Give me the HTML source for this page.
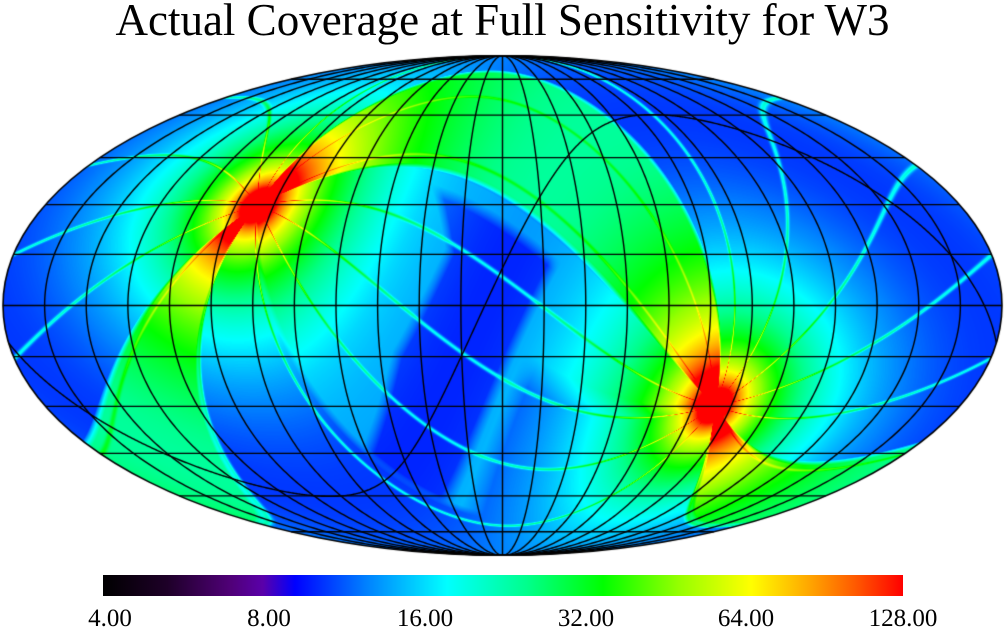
<!DOCTYPE html>
<html>
<head>
<meta charset="utf-8">
<style>
html,body{margin:0;padding:0;background:#fff;width:1005px;height:628px;overflow:hidden}
#c{position:absolute;left:0;top:0}
svg{position:absolute;left:0;top:0}
</style>
</head>
<body>
<canvas id="c" width="1005" height="628"></canvas>
<svg width="1005" height="628" xmlns="http://www.w3.org/2000/svg">
  <defs>
    <linearGradient id="cb" x1="0" x2="1" y1="0" y2="0">
      <stop offset="0" stop-color="rgb(0,0,0)"/>
      <stop offset="0.08" stop-color="rgb(30,0,40)"/>
      <stop offset="0.16" stop-color="rgb(80,0,120)"/>
      <stop offset="0.20" stop-color="rgb(90,0,170)"/>
      <stop offset="0.24" stop-color="rgb(0,0,255)"/>
      <stop offset="0.33" stop-color="rgb(0,130,255)"/>
      <stop offset="0.43" stop-color="rgb(0,255,255)"/>
      <stop offset="0.53" stop-color="rgb(0,255,140)"/>
      <stop offset="0.625" stop-color="rgb(0,255,0)"/>
      <stop offset="0.72" stop-color="rgb(150,255,0)"/>
      <stop offset="0.81" stop-color="rgb(255,255,0)"/>
      <stop offset="0.88" stop-color="rgb(255,170,0)"/>
      <stop offset="0.94" stop-color="rgb(255,90,0)"/>
      <stop offset="1" stop-color="rgb(255,0,0)"/>
    </linearGradient>
  </defs>
  <text x="502.5" y="35" font-family="Liberation Serif, serif" font-size="45" text-anchor="middle" fill="#000">Actual Coverage at Full Sensitivity for W3</text>
  <rect x="103" y="575" width="800" height="21" fill="url(#cb)"/>
  <g font-family="Liberation Serif, serif" font-size="25" text-anchor="middle" fill="#000">
    <text x="110" y="626">4.00</text>
    <text x="269" y="626">8.00</text>
    <text x="425" y="626">16.00</text>
    <text x="586" y="626">32.00</text>
    <text x="746" y="626">64.00</text>
    <text x="903" y="626">128.00</text>
  </g>
</svg>
<script>
(function(){
  var W=1005,H=628,cx=502.5,cy=305.5,A=499.5,B=249.75,PI=Math.PI,D=PI/180;
  var cv=document.getElementById('c');
  var ctx=cv.getContext('2d');
  function vec(l,b){l*=D;b*=D;return [Math.cos(b)*Math.cos(l),Math.cos(b)*Math.sin(l),Math.sin(b)];}
  var P=vec(96.3838,29.8115);
  var E0=vec(96.3373,-60.1886);
  var dd=E0[0]*P[0]+E0[1]*P[1]+E0[2]*P[2];
  E0=[E0[0]-dd*P[0],E0[1]-dd*P[1],E0[2]-dd*P[2]];
  var nn=Math.sqrt(E0[0]*E0[0]+E0[1]*E0[1]+E0[2]*E0[2]);
  E0=[E0[0]/nn,E0[1]/nn,E0[2]/nn];
  var E9=[P[1]*E0[2]-P[2]*E0[1],P[2]*E0[0]-P[0]*E0[2],P[0]*E0[1]-P[1]*E0[0]];

  var stops=[[0,0,0,0],[0.08,30,0,40],[0.16,80,0,120],[0.20,90,0,170],[0.24,0,0,255],[0.33,0,130,255],[0.43,0,255,255],[0.53,0,255,140],[0.625,0,255,0],[0.72,150,255,0],[0.81,255,255,0],[0.88,255,170,0],[0.94,255,90,0],[1,255,0,0]];
  var LUT=new Uint8Array(1024*3);
  for(var i=0;i<1024;i++){
    var t=i/1023,k=0;
    while(k<stops.length-2&&t>stops[k+1][0])k++;
    var s0=stops[k],s1=stops[k+1];
    var u=(t-s0[0])/(s1[0]-s0[0]);if(u<0)u=0;if(u>1)u=1;
    LUT[i*3]=Math.round(s0[1]+(s1[1]-s0[1])*u);
    LUT[i*3+1]=Math.round(s0[2]+(s1[2]-s0[2])*u);
    LUT[i*3+2]=Math.round(s0[3]+(s1[3]-s0[3])*u);
  }
  function clamp(x){return x<0?0:(x>1?1:x);}
  function box(x,a,b,w){return clamp((x-a)/w+0.5)*clamp((b-x)/w+0.5);}
  function angd(a,b){var d=a-b;d=((d%360)+540)%360-180;return d;}
  var streaks=[];
  for(var k2=-3;k2<=9;k2++){var s=100+26.6*k2;s=((s%360)+360)%360;streaks.push(s);}
  function f(le,be){
    var v=10.5;
    var w=clamp((le-275)/10);
    var lim=(1-w)+w*clamp((be+22)/6+0.5);
    var hiL=1-0.35*clamp((be-15)/20);
    v+=3.0*box(le,238,335,3)*lim*hiL;
    v+=13.5*box(le,21,50,2);
    v+=13.5*box(le,193,238,2);
    var bmax=19+0.8*Math.max(0,262-le)-0.3*Math.max(0,le-300);
    var dk=box(le,246,335,4)*box(be,-15,bmax,4);
    v=v*(1-dk)+10*dk;
    for(var j=0;j<streaks.length;j++){var d=angd(le,streaks[j]);if(d>-2.5&&d<2.5)v+=8*Math.exp(-d*d/(2*0.4*0.4));}
    return v;
  }
  var img=ctx.createImageData(W,H);
  var data=img.data;
  for(var p=0;p<data.length;p+=4){data[p]=255;data[p+1]=255;data[p+2]=255;data[p+3]=255;}
  for(var y=0;y<H;y++){
    var ny=(cy-(y+0.5))/B;
    if(ny<=-1||ny>=1)continue;
    var th=Math.asin(ny),cth=Math.cos(th);
    var sb=(2*th+Math.sin(2*th))/PI;if(sb>1)sb=1;if(sb<-1)sb=-1;
    var cbb=Math.sqrt(1-sb*sb);
    for(var x=0;x<W;x++){
      var nx=(x+0.5-cx)/A;
      if(nx*nx+ny*ny>1)continue;
      var lam=PI*nx/cth;
      var l=-lam;
      var vx=cbb*Math.cos(l),vy=cbb*Math.sin(l),vz=sb;
      var sbe=vx*P[0]+vy*P[1]+vz*P[2];
      if(sbe>1)sbe=1;if(sbe<-1)sbe=-1;
      var cbe=Math.sqrt(Math.max(0,1-sbe*sbe));
      var be=Math.asin(sbe)/D;
      var le=Math.atan2(vx*E9[0]+vy*E9[1]+vz*E9[2],vx*E0[0]+vy*E0[1]+vz*E0[2])/D;
      if(le<0)le+=360;
      var g=(1/Math.max(cbe,0.015))*(1+0.15*sbe*sbe);
      var N=f(le,be)*g;
      var t=(Math.log(N)/Math.LN2-2)/5;
      t=clamp(t);
      var idx=Math.round(t*1023)*3;
      var o=(y*W+x)*4;
      data[o]=LUT[idx];data[o+1]=LUT[idx+1];data[o+2]=LUT[idx+2];
    }
  }
  ctx.putImageData(img,0,0);

  function solve(phi){
    if(Math.abs(phi)>=PI/2-1e-9)return phi>0?PI/2:-PI/2;
    var target=PI*Math.sin(phi),t=phi;
    for(var i=0;i<50;i++){
      var fv=2*t+Math.sin(2*t)-target,d=2+2*Math.cos(2*t);
      if(d<1e-10)break;
      var nt=t-fv/d;
      if(Math.abs(nt-t)<1e-12){t=nt;break;}
      t=nt;
    }
    return t;
  }
  ctx.strokeStyle='#000';
  ctx.lineWidth=1.4;
  ctx.lineJoin='round';
  for(var m=-11;m<=11;m++){
    var lm=m*15*D;
    ctx.beginPath();
    for(var i2=0;i2<=300;i2++){
      var tt=-PI/2+PI*i2/300;
      var xx=cx+A*(lm/PI)*Math.cos(tt),yy=cy-B*Math.sin(tt);
      if(i2===0)ctx.moveTo(xx,yy);else ctx.lineTo(xx,yy);
    }
    ctx.stroke();
  }
  var pars=[-75,-60,-45,-30,-15,0,15,30,45,60,75];
  for(var q=0;q<pars.length;q++){
    var tq=solve(pars[q]*D);
    var yq=cy-B*Math.sin(tq),hw=A*Math.cos(tq);
    ctx.beginPath();ctx.moveTo(cx-hw,yq);ctx.lineTo(cx+hw,yq);ctx.stroke();
  }
  ctx.beginPath();
  var px=null;
  for(var e=0;e<=1440;e++){
    var a=e*0.25*D;
    var ex=Math.cos(a)*E0[0]+Math.sin(a)*E9[0];
    var ey=Math.cos(a)*E0[1]+Math.sin(a)*E9[1];
    var ez=Math.cos(a)*E0[2]+Math.sin(a)*E9[2];
    var bb=Math.asin(Math.max(-1,Math.min(1,ez)));
    var ll=Math.atan2(ey,ex);
    var lamb=-ll;
    var te=solve(bb);
    var X=cx+A*(lamb/PI)*Math.cos(te),Y=cy-B*Math.sin(te);
    if(px===null||Math.abs(X-px)>300)ctx.moveTo(X,Y);else ctx.lineTo(X,Y);
    px=X;
  }
  ctx.stroke();
  ctx.lineWidth=1.6;
  ctx.beginPath();
  ctx.ellipse(cx,cy,A,B,0,0,2*PI);
  ctx.stroke();
})();
</script>
</body>
</html>
